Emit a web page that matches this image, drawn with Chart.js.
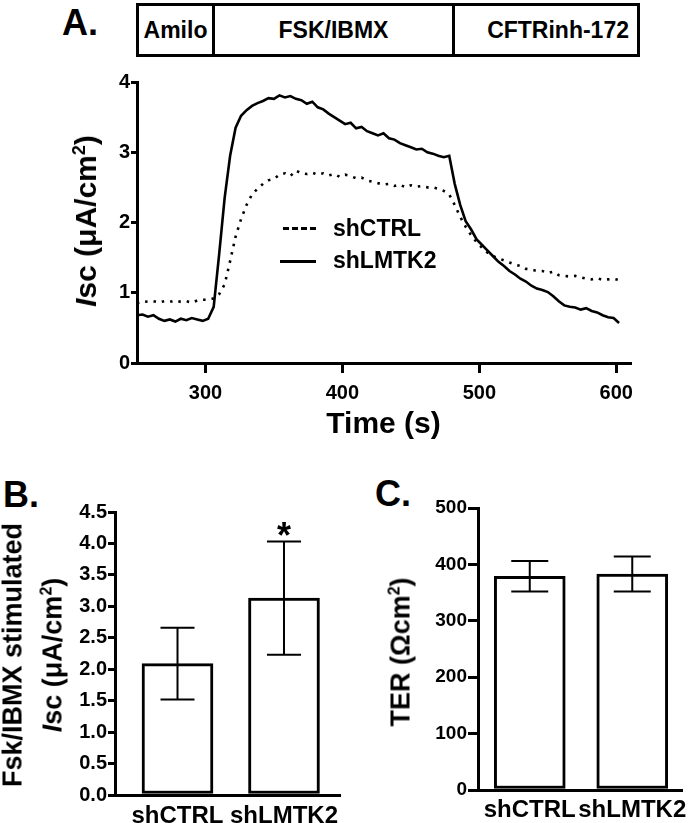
<!DOCTYPE html>
<html>
<head>
<meta charset="utf-8">
<script src="https://cdn.jsdelivr.net/npm/chart.js@4.4.0/dist/chart.umd.min.js"></script>
<style>
  body { margin: 0; background: #fff; }
  #page { position: relative; width: 693px; height: 823px; overflow: hidden;
    font-family: 'Liberation Sans', Arial, sans-serif; font-weight: bold; color: #000; }
  .abs { position: absolute; }
  .panel { position: absolute; font-size: 36px; line-height: 36px; }
  .box { position: absolute; left: 136px; top: 3px; width: 498px; height: 48px;
    border: 3px solid #000; display: flex; }
  .cell { display: flex; align-items: center; justify-content: center; font-size: 23px;
    box-sizing: border-box; height: 100%; }
  .rot { position: absolute; transform: translate(-50%, -50%) rotate(-90deg);
    white-space: nowrap; text-align: center; }
  .wrap { position: absolute; }
  .leg { position: absolute; font-size: 23px; line-height: 28px; white-space: nowrap; }
</style>
</head>
<body>
<div id="page">
  <div class="panel" style="left:62px;top:5px">A.</div>
  <div class="box">
    <div class="cell" style="width:76px;border-right:3px solid #000">Amilo</div>
    <div class="cell" style="width:240px;border-right:3px solid #000">FSK/IBMX</div>
    <div class="cell" style="width:182px;justify-content:flex-end;padding-right:8px">CFTRinh-172</div>
  </div>

  <div class="wrap" style="left:0;top:60px;width:693px;height:385px"><canvas id="chartA"></canvas></div>
  <div class="rot" style="left:86px;top:221px;font-size:30px"><i>I</i>sc (μA/cm<sup style="font-size:18px">2</sup>)</div>

  <div class="abs" style="left:283px;top:227px;width:33px;height:3px;
    background:repeating-linear-gradient(90deg,#000 0 6px,transparent 6px 9px)"></div>
  <div class="leg" style="left:333px;top:214px">shCTRL</div>
  <div class="abs" style="left:280px;top:260px;width:36px;height:3px;background:#000"></div>
  <div class="leg" style="left:333px;top:246px">shLMTK2</div>

  <div class="panel" style="left:3px;top:477px">B.</div>
  <div class="wrap" style="left:0;top:470px;width:350px;height:353px"><canvas id="chartB"></canvas></div>
  <div class="rot" style="left:33px;top:655px;font-size:27px;line-height:33px">Fsk/IBMX stimulated<br><i>I</i>sc (μA/cm<sup style="font-size:16px">2</sup>)</div>

  <div class="panel" style="left:375px;top:476px">C.</div>
  <div class="wrap" style="left:350px;top:470px;width:343px;height:353px"><canvas id="chartC"></canvas></div>
  <div class="rot" style="left:401px;top:652px;font-size:27px">TER (Ωcm<sup style="font-size:16px">2</sup>)</div>
</div>

<script>
// ── Panel A: Isc trace, 4 s sampling ─────────────────────────
const times = [250, 254, 258, 262, 266, 270, 274, 278, 282, 286, 290, 294, 298, 302,
  306, 310, 314, 318, 322, 326, 330, 334, 338, 342, 346, 350, 354, 358, 362, 366, 370,
  374, 378, 382, 386, 390, 394, 398, 402, 406, 410, 414, 418, 422, 426, 430, 434, 438,
  442, 446, 450, 454, 458, 462, 466, 470, 474, 478, 482, 486, 490, 494, 498, 502, 506,
  510, 514, 518, 522, 526, 530, 534, 538, 542, 546, 550, 554, 558, 562, 566, 570, 574,
  578, 582, 586, 590, 594, 598, 602];

const shCTRL = [0.85, 0.88, 0.87, 0.88, 0.86, 0.88, 0.87, 0.89, 0.87, 0.88, 0.86, 0.89, 0.90, 0.90,
  0.92, 0.98, 1.12, 1.45, 1.80, 2.05, 2.25, 2.40, 2.48, 2.55, 2.60, 2.62, 2.68, 2.70, 2.66, 2.74, 2.70,
  2.69, 2.71, 2.68, 2.70, 2.67, 2.69, 2.65, 2.68, 2.66, 2.63, 2.64, 2.60, 2.58, 2.56, 2.54, 2.55, 2.52,
  2.54, 2.50, 2.53, 2.51, 2.52, 2.50, 2.50, 2.48, 2.45, 2.40, 2.25, 2.08, 1.94, 1.82, 1.72, 1.64, 1.57,
  1.52, 1.49, 1.46, 1.43, 1.40, 1.38, 1.34, 1.33, 1.31, 1.31, 1.28, 1.30, 1.25, 1.24, 1.23, 1.24, 1.22,
  1.20, 1.19, 1.21, 1.18, 1.19, 1.20, 1.18];

const shLMTK2 = [0.68, 0.69, 0.66, 0.68, 0.63, 0.60, 0.62, 0.59, 0.63, 0.61, 0.64, 0.62, 0.60, 0.63,
  0.80, 1.55, 2.35, 2.95, 3.35, 3.52, 3.60, 3.66, 3.70, 3.73, 3.77, 3.76, 3.81, 3.78, 3.80, 3.76, 3.74,
  3.69, 3.72, 3.64, 3.61, 3.55, 3.50, 3.45, 3.40, 3.42, 3.34, 3.36, 3.30, 3.27, 3.24, 3.27, 3.20, 3.18,
  3.13, 3.10, 3.07, 3.04, 3.05, 3.00, 2.98, 2.95, 2.93, 2.95, 2.55, 2.25, 2.02, 1.90, 1.76, 1.68, 1.60,
  1.52, 1.44, 1.38, 1.31, 1.26, 1.20, 1.16, 1.10, 1.06, 1.04, 1.01, 0.95, 0.88, 0.82, 0.80, 0.79, 0.76,
  0.78, 0.74, 0.72, 0.68, 0.65, 0.64, 0.57];

const timeTicks = [300, 400, 500, 600];

// ── Panels B & C: means ± error ───────────────────────────────
const groups = ['shCTRL', 'shLMTK2'];
const iscMeans = [2.09, 3.13];
const iscErrors = [0.57, 0.90];
const terMeans = [379, 383];
const terErrors = [27, 31];

const FONT = "'Liberation Sans', Arial, sans-serif";
Chart.defaults.font.family = FONT;
Chart.defaults.font.weight = 'bold';
Chart.defaults.color = '#000';

const axisGrid = (len) => ({ drawOnChartArea: false, drawTicks: true, tickLength: len, lineWidth: 3, color: '#000' });
const axisBorder = { width: 3, color: '#000' };

new Chart(document.getElementById('chartA'), {
  type: 'line',
  data: {
    datasets: [
      { label: 'shCTRL', data: times.map((t, i) => ({ x: t, y: shCTRL[i] })),
        borderColor: '#000', borderWidth: 2.6, borderDash: [2.5, 6], pointRadius: 0, tension: 0 },
      { label: 'shLMTK2', data: times.map((t, i) => ({ x: t, y: shLMTK2[i] })),
        borderColor: '#000', borderWidth: 2.6, pointRadius: 0, tension: 0 }
    ]
  },
  options: {
    responsive: true, maintainAspectRatio: false, animation: false,
    layout: { padding: { top: 22, right: 63, left: 0, bottom: 0 } },
    plugins: { legend: { display: false }, tooltip: { enabled: false } },
    scales: {
      x: {
        type: 'linear', min: 250, max: 610,
        afterFit: s => { s.height = 82; },
        afterBuildTicks: s => { s.ticks = timeTicks.map(v => ({ value: v })); },
        ticks: { font: { size: 20, weight: 'bold' }, color: '#000', padding: 8 },
        grid: axisGrid(10), border: axisBorder,
        title: { display: true, text: 'Time (s)', font: { size: 30, weight: 'bold' }, color: '#000',
          padding: { top: 0, bottom: 2 } }
      },
      y: {
        min: 0, max: 4,
        afterFit: s => { s.width = 137; },
        ticks: { stepSize: 1, font: { size: 20, weight: 'bold' }, color: '#000', padding: 1 },
        grid: axisGrid(6), border: axisBorder
      }
    }
  }
});

function errorBars(means, errs, capW, starIdx) {
  return {
    id: 'errorBars',
    afterDatasetsDraw(chart) {
      const { ctx, scales: { x, y } } = chart;
      ctx.save();
      ctx.strokeStyle = '#000';
      ctx.lineWidth = 2;
      means.forEach((m, i) => {
        const px = x.getPixelForValue(i + 1);
        const top = y.getPixelForValue(m + errs[i]);
        const bot = y.getPixelForValue(m - errs[i]);
        ctx.beginPath();
        ctx.moveTo(px, bot); ctx.lineTo(px, top);
        ctx.moveTo(px - capW / 2, top); ctx.lineTo(px + capW / 2, top);
        ctx.moveTo(px - capW / 2, bot); ctx.lineTo(px + capW / 2, bot);
        ctx.stroke();
        if (i === starIdx) {
          ctx.fillStyle = '#000';
          ctx.font = 'bold 36px ' + FONT;
          ctx.textAlign = 'center';
          ctx.textBaseline = 'alphabetic';
          ctx.fillText('*', px, top + 6);
        }
      });
      ctx.restore();
    }
  };
}

function barPanel(id, means, errs, cfg) {
  new Chart(document.getElementById(id), {
    type: 'bar',
    data: {
      datasets: [{
        data: means.map((m, i) => ({ x: i + 1, y: m })),
        backgroundColor: '#fff', borderColor: '#000', borderWidth: 3,
        borderSkipped: false, barThickness: 71
      }]
    },
    options: {
      responsive: true, maintainAspectRatio: false, animation: false,
      layout: { padding: cfg.padding },
      plugins: { legend: { display: false }, tooltip: { enabled: false } },
      scales: {
        x: {
          type: 'linear', min: cfg.xMin, max: cfg.xMax, offset: false,
          afterFit: s => { s.height = cfg.xHeight; },
          afterBuildTicks: s => { s.ticks = groups.map((g, i) => ({ value: i + 1 })); },
          ticks: { callback: (v, i) => groups[i], font: { size: 24, weight: 'bold' }, color: '#000',
            padding: cfg.labelPad, maxRotation: 0, autoSkip: false },
          grid: { display: false, drawTicks: false, offset: false }, border: axisBorder
        },
        y: {
          min: 0, max: cfg.yMax,
          afterFit: s => { s.width = cfg.yWidth; },
          ticks: { stepSize: cfg.yStep, callback: cfg.yFmt, font: { size: cfg.tickSize, weight: 'bold' },
            color: '#000', padding: 1 },
          grid: axisGrid(cfg.tickLen), border: axisBorder
        }
      }
    },
    plugins: [errorBars(means, errs, cfg.capW, cfg.star)]
  });
}

barPanel('chartB', iscMeans, iscErrors, {
  padding: { top: 42, right: 10, left: 0, bottom: 0 },
  xMin: 0.413, xMax: 2.526, xHeight: 28, labelPad: 7,
  yMax: 4.5, yStep: 0.5, yFmt: v => v.toFixed(1), yWidth: 115, tickSize: 20, tickLen: 7,
  capW: 34, star: 1
});

barPanel('chartC', terMeans, terErrors, {
  padding: { top: 38, right: 3, left: 0, bottom: 0 },
  xMin: 0.495, xMax: 2.495, xHeight: 33, labelPad: 6,
  yMax: 500, yStep: 100, yFmt: v => v, yWidth: 128, tickSize: 19, tickLen: 10,
  capW: 37, star: -1
});
</script>
</body>
</html>
